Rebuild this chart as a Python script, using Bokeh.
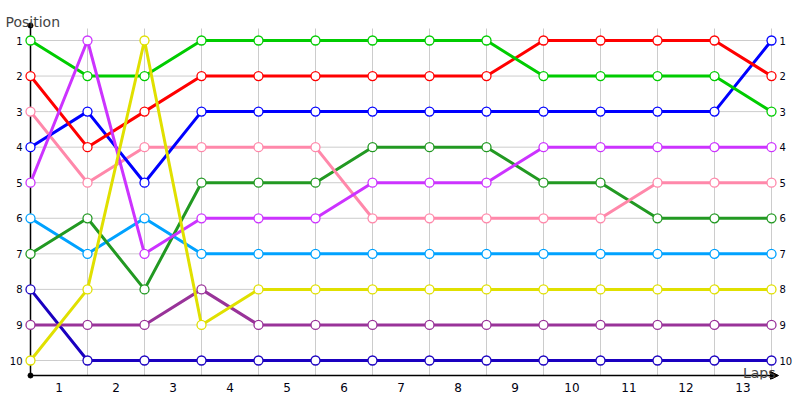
from bokeh.plotting import figure
from bokeh.models import Range1d, LinearAxis, FixedTicker, Label, Arrow, NormalHead
from bokeh.core.properties import value
from bokeh.embed import file_html
from bokeh.resources import INLINE

# laps (0 = start) and positions
laps = list(range(14))
lap_labels = [str(i) for i in range(1, 14)]
positions = list(range(1, 11))

# position of each driver after each lap
green = [1, 2, 2, 1, 1, 1, 1, 1, 1, 2, 2, 2, 2, 3]
red = [2, 4, 3, 2, 2, 2, 2, 2, 2, 1, 1, 1, 1, 2]
blue = [4, 3, 5, 3, 3, 3, 3, 3, 3, 3, 3, 3, 3, 1]
violet = [5, 1, 7, 6, 6, 6, 5, 5, 5, 4, 4, 4, 4, 4]
pink = [3, 5, 4, 4, 4, 4, 6, 6, 6, 6, 6, 5, 5, 5]
darkgreen = [7, 6, 8, 5, 5, 5, 4, 4, 4, 5, 5, 6, 6, 6]
skyblue = [6, 7, 6, 7, 7, 7, 7, 7, 7, 7, 7, 7, 7, 7]
yellow = [10, 8, 1, 9, 8, 8, 8, 8, 8, 8, 8, 8, 8, 8]
plum = [9, 9, 9, 8, 9, 9, 9, 9, 9, 9, 9, 9, 9, 9]
navy = [8, 10, 10, 10, 10, 10, 10, 10, 10, 10, 10, 10, 10, 10]

series = [
    (navy, '#1a00c0'),
    (plum, '#993399'),
    (skyblue, '#00a2ff'),
    (darkgreen, '#229922'),
    (pink, '#ff88aa'),
    (blue, '#0000ff'),
    (red, '#ff0000'),
    (green, '#00cc00'),
    (violet, '#cc33ff'),
    (yellow, '#e0e000'),
]

FONT = 'DejaVu Sans'
W, H = 800, 400
BOTTOM = 21          # room for the lap labels

# pixel scale: lap 0 sits 30px from the left, position 1 is 40px from the top
px_x = 57.0
px_y = 320.0 / 9
x_lo = laps[0] - 30 / px_x
x_hi = laps[-1] + (W - 30 - 13 * px_x) / px_x
y_top = positions[0] - 40 / px_y
y_bot = positions[-1] + (H - BOTTOM - 360) / px_y

y_axis = positions[-1] + 15 / px_y      # x axis line
axis_top = positions[0] - 15 / px_y     # top of the y axis line
grid_top = positions[0] - 12 / px_y

p = figure(
    width=W,
    height=H,
    title=None,
    output_backend='svg',
    toolbar_location=None,
    x_range=Range1d(x_lo, x_hi),
    y_range=Range1d(y_bot, y_top),
    x_axis_location=None,
    y_axis_location=None,
    min_border_left=0,
    min_border_right=0,
    min_border_top=0,
    min_border_bottom=BOTTOM,
)
p.outline_line_color = None
p.background_fill_color = 'white'
p.xgrid.visible = False
p.ygrid.visible = False

# grid
g1 = p.segment(x0=laps, y0=[grid_top] * len(laps), x1=laps, y1=[y_axis] * len(laps),
               line_color='#cccccc', line_width=1)
g2 = p.segment(x0=[laps[0]] * len(positions), y0=positions,
               x1=[laps[-1]] * len(positions), y1=positions,
               line_color='#cccccc', line_width=1)
g1.level = 'image'
g2.level = 'image'

# axis lines
ya = Arrow(end=None, x_start=laps[0], y_start=y_axis, x_end=laps[0], y_end=axis_top,
           line_color='black', line_width=1.5, level='underlay')
xa = Arrow(end=NormalHead(size=8, fill_color='black', line_color='black', line_width=1),
           x_start=laps[0], y_start=y_axis, x_end=laps[-1] + 7 / px_x, y_end=y_axis,
           line_color='black', line_width=1.5, level='underlay')
p.add_layout(ya)
p.add_layout(xa)
p.scatter([laps[0], laps[0]], [axis_top, y_axis], size=5, color='black')

for vals, col in series:
    p.line(laps, vals, line_width=3, line_color=col)
for vals, col in series:
    p.scatter(laps, vals, size=9, fill_color='white', line_color=col,
              line_width=1.3)

# position labels on both sides
p.text(x=[laps[0]] * len(positions), y=positions, text=[str(v) for v in positions],
       x_offset=-8, text_align='right', text_baseline='middle',
       text_font=value(FONT), text_font_size=value('10px'), text_color='#000011')
p.text(x=[laps[-1]] * len(positions), y=positions, text=[str(v) for v in positions],
       x_offset=8, text_align='left', text_baseline='middle',
       text_font=value(FONT), text_font_size=value('10px'), text_color='#000011')

# lap labels between the grid lines
mid_ticks = [l + 0.5 for l in laps[:-1]]
xax = LinearAxis(ticker=FixedTicker(ticks=mid_ticks))
xax.major_label_overrides = {t: s for t, s in zip(mid_ticks, lap_labels)}
xax.axis_line_color = None
xax.major_tick_line_color = None
xax.minor_tick_line_color = None
xax.major_tick_out = 0
xax.major_tick_in = 0
xax.major_label_standoff = 3
xax.major_label_text_font = FONT
xax.major_label_text_font_size = '12px'
xax.major_label_text_color = '#000011'
p.add_layout(xax, 'below')

p.add_layout(Label(x=laps[0] - 25 / px_x, y=positions[0] - 19 / px_y, text='Position',
                   text_font=FONT, text_font_size='14px', text_baseline='alphabetic'))
p.add_layout(Label(x=laps[-1] + 4 / px_x, y=positions[-1] + 12 / px_y, text='Laps',
                   text_font=FONT, text_font_size='14px', text_align='right',
                   text_baseline='alphabetic'))

open('out.html', 'w').write(file_html(p, INLINE))
